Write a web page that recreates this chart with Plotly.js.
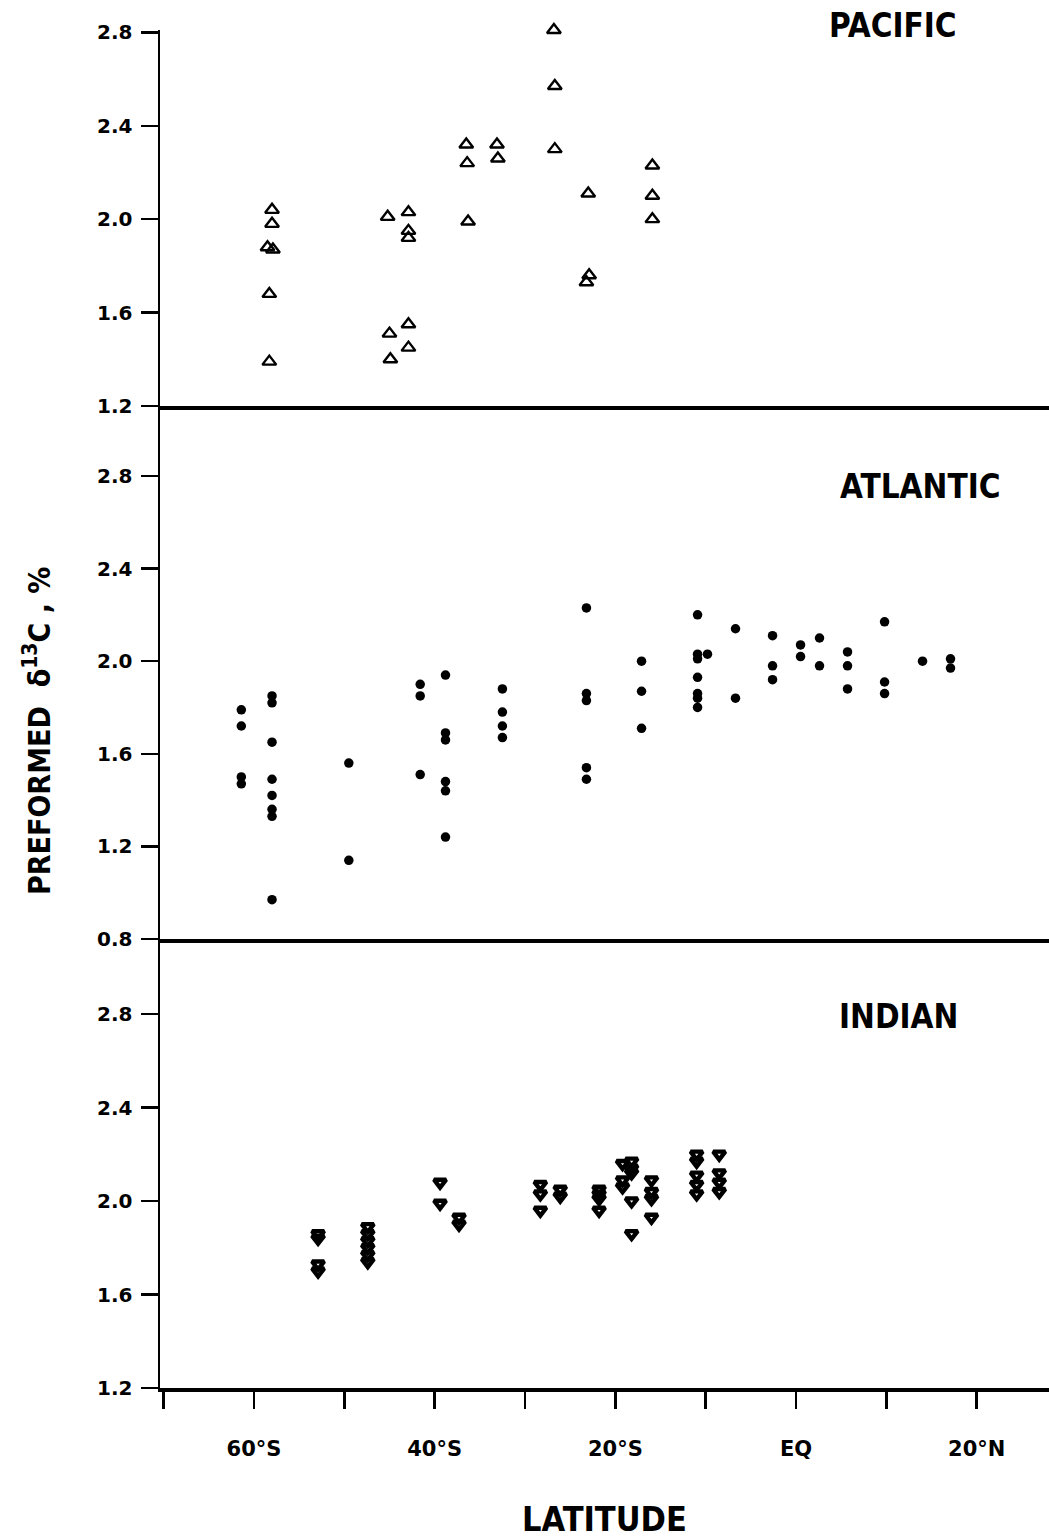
<!DOCTYPE html>
<html>
<head>
<meta charset="utf-8">
<script src="https://cdn.plot.ly/plotly-3.0.1.min.js"></script>
<style>
  html, body { margin: 0; padding: 0; background: #ffffff; }
  #chart { width: 1049px; height: 1539px; }
</style>
</head>
<body>
<div id="chart"></div>
<script>
// ---------------- DATA ----------------
// Latitude (negative = south) and preformed delta13C values
const pacificLat = [-58.0, -58.0, -58.5, -57.9, -58.3, -58.3,
                    -45.2, -45.0, -44.9,
                    -42.9, -42.9, -42.9, -42.9, -42.9,
                    -36.5, -36.4, -36.3,
                    -33.1, -33.0,
                    -26.8, -26.7, -26.7,
                    -23.0, -22.9, -23.2,
                    -15.9, -15.9, -15.9];
const pacificVal = [2.04, 1.98, 1.88, 1.87, 1.68, 1.39,
                    2.01, 1.51, 1.40,
                    2.03, 1.95, 1.92, 1.55, 1.45,
                    2.32, 2.24, 1.99,
                    2.32, 2.26,
                    2.81, 2.57, 2.30,
                    2.11, 1.76, 1.73,
                    2.23, 2.10, 2.00];

const atlanticLat = [-61.4, -61.4, -61.4, -61.4,
                     -58.0, -58.0, -58.0, -58.0, -58.0, -58.0, -58.0, -58.0,
                     -49.5, -49.5,
                     -41.6, -41.6, -41.6,
                     -38.8, -38.8, -38.8, -38.8, -38.8, -38.8,
                     -32.5, -32.5, -32.5, -32.5,
                     -23.2, -23.2, -23.2, -23.2, -23.2,
                     -17.1, -17.1, -17.1,
                     -10.9, -10.9, -10.9, -10.9, -10.9, -10.9, -10.9,
                     -9.8,
                     -6.7, -6.7,
                     -2.6, -2.6, -2.6,
                     0.5, 0.5,
                     2.6, 2.6,
                     5.7, 5.7, 5.7,
                     9.8, 9.8, 9.8,
                     14.0,
                     17.1, 17.1];
const atlanticVal = [1.79, 1.72, 1.50, 1.47,
                     1.85, 1.82, 1.65, 1.49, 1.42, 1.36, 1.33, 0.97,
                     1.56, 1.14,
                     1.90, 1.85, 1.51,
                     1.94, 1.69, 1.66, 1.48, 1.44, 1.24,
                     1.88, 1.78, 1.72, 1.67,
                     2.23, 1.86, 1.83, 1.54, 1.49,
                     2.00, 1.87, 1.71,
                     2.20, 2.03, 2.01, 1.93, 1.86, 1.84, 1.80,
                     2.03,
                     2.14, 1.84,
                     2.11, 1.98, 1.92,
                     2.07, 2.02,
                     2.10, 1.98,
                     2.04, 1.98, 1.88,
                     2.17, 1.91, 1.86,
                     2.00,
                     2.01, 1.97];

const indianLat = [-52.9, -52.9, -52.9, -52.9,
                   -47.4, -47.4, -47.4, -47.4, -47.4, -47.4,
                   -39.4, -39.4,
                   -37.3, -37.3,
                   -28.3, -28.3, -28.3,
                   -26.1, -26.1,
                   -21.8, -21.8, -21.8, -21.8,
                   -19.2, -19.2, -19.2,
                   -18.2, -18.2, -18.2, -18.2, -18.2,
                   -16.0, -16.0, -16.0, -16.0,
                   -11.0, -11.0, -11.0, -11.0, -11.0,
                   -8.5, -8.5, -8.5, -8.5];
const indianVal = [1.86, 1.84, 1.73, 1.70,
                   1.89, 1.86, 1.83, 1.80, 1.77, 1.74,
                   2.08, 1.99,
                   1.93, 1.90,
                   2.07, 2.03, 1.96,
                   2.05, 2.02,
                   2.05, 2.03, 2.01, 1.96,
                   2.16, 2.09, 2.06,
                   2.17, 2.14, 2.12, 2.00, 1.86,
                   2.09, 2.04, 2.01, 1.93,
                   2.20, 2.17, 2.11, 2.07, 2.03,
                   2.20, 2.12, 2.08, 2.04];

const xTickVals = [-60, -40, -20, 0, 20];
const xTickText = ['60°S', '40°S', '20°S', 'EQ', '20°N'];
const pacificTicks = [1.2, 1.6, 2.0, 2.4, 2.8];
const atlanticTicks = [0.8, 1.2, 1.6, 2.0, 2.4, 2.8];
const indianTicks = [1.2, 1.6, 2.0, 2.4, 2.8];
const panelNames = ['PACIFIC', 'ATLANTIC', 'INDIAN'];
const xTitle = 'LATITUDE';
const yTitle = 'PREFORMED  δ<sup>13</sup>C , %';

// ---------------- STYLE ----------------
const narrow = 'Liberation Sans Narrow, DejaVu Sans Condensed, Arial Narrow, Roboto Condensed, Roboto, sans-serif';
const tickFamily = 'DejaVu Sans, Roboto, sans-serif';
const ink = '#000000';

const traces = [
  { x: pacificLat, y: pacificVal, xaxis: 'x3', yaxis: 'y3', type: 'scatter', mode: 'markers',
    cliponaxis: false,
    marker: { symbol: 'triangle-up-open', size: 12, color: ink, line: { color: ink, width: 2.4 } } },
  { x: atlanticLat, y: atlanticVal, xaxis: 'x2', yaxis: 'y2', type: 'scatter', mode: 'markers',
    cliponaxis: false,
    marker: { symbol: 'circle', size: 9.5, color: ink, line: { width: 0 } } },
  { x: indianLat, y: indianVal, xaxis: 'x', yaxis: 'y', type: 'scatter', mode: 'markers',
    cliponaxis: false,
    marker: { symbol: 'triangle-down-open', size: 10.5, color: ink, line: { color: ink, width: 4.4 } } }
];

const xRange = [-70.4, 28.0];
const dInd = [0, 0.33063];
const dAtl = [0.33063, 0.72312];
const dPac = [0.72312, 1];

function yAxis(domain, range, ticks, anchor) {
  return {
    domain: domain, range: range, anchor: anchor,
    tickmode: 'array', tickvals: ticks, tickformat: '.1f',
    ticks: 'outside', ticklen: 17, tickwidth: 2.5, tickcolor: ink,
    showline: true, linewidth: 2.5, linecolor: ink,
    showgrid: false, zeroline: false, fixedrange: true,
    ticklabelstandoff: 4,
    tickfont: { family: tickFamily, size: 20, color: ink, weight: 'bold' }
  };
}

const layout = {
  width: 1049, height: 1539,
  margin: { l: 160, r: 0, t: 30, b: 151 },
  paper_bgcolor: '#ffffff', plot_bgcolor: '#ffffff',
  showlegend: false,
  xaxis: {
    domain: [0, 1], range: xRange, anchor: 'y',
    tickmode: 'array', tickvals: xTickVals, ticktext: xTickText,
    ticks: 'outside', ticklen: 17, tickwidth: 2.5, tickcolor: ink,
    minor: { tickmode: 'linear', tick0: -70, dtick: 10, ticks: 'outside',
             ticklen: 17, tickwidth: 2.5, tickcolor: ink, showgrid: false },
    showline: true, linewidth: 4, linecolor: ink,
    showgrid: false, zeroline: false, fixedrange: true,
    ticklabelstandoff: 22,
    tickfont: { family: tickFamily, size: 21, color: ink, weight: 'bold' },
    title: { text: xTitle, standoff: 50,
             font: { family: narrow, size: 34, color: ink, weight: 'bold' } }
  },
  xaxis2: {
    domain: [0, 1], range: xRange, anchor: 'y2', matches: 'x',
    showticklabels: false, ticks: '', showline: true, linewidth: 3.5, linecolor: ink,
    showgrid: false, zeroline: false, fixedrange: true
  },
  xaxis3: {
    domain: [0, 1], range: xRange, anchor: 'y3', matches: 'x',
    showticklabels: false, ticks: '', showline: true, linewidth: 3.5, linecolor: ink,
    showgrid: false, zeroline: false, fixedrange: true
  },
  yaxis: yAxis(dInd, [1.2, 3.121], indianTicks, 'x'),
  yaxis2: yAxis(dAtl, [0.8, 3.102], atlanticTicks, 'x2'),
  yaxis3: yAxis(dPac, [1.2, 2.81], pacificTicks, 'x3'),
  annotations: [
    { text: panelNames[0], xref: 'paper', yref: 'paper', x: 0.8245, y: 1.0030,
      xanchor: 'center', yanchor: 'middle', showarrow: false,
      font: { family: narrow, size: 33, color: ink, weight: 'bold' } },
    { text: panelNames[1], xref: 'paper', yref: 'paper', x: 0.856, y: 0.6635,
      xanchor: 'center', yanchor: 'middle', showarrow: false,
      font: { family: narrow, size: 33, color: ink, weight: 'bold' } },
    { text: panelNames[2], xref: 'paper', yref: 'paper', x: 0.831, y: 0.2732,
      xanchor: 'center', yanchor: 'middle', showarrow: false,
      font: { family: narrow, size: 33, color: ink, weight: 'bold' } },
    { text: yTitle, xref: 'paper', yref: 'paper', x: -0.1372, y: 0.4838,
      xanchor: 'center', yanchor: 'middle', textangle: -90, showarrow: false,
      font: { family: narrow, size: 30, color: ink, weight: 'bold' } }
  ]
};

Plotly.newPlot('chart', traces, layout, { displayModeBar: false, staticPlot: true });
</script>
</body>
</html>
